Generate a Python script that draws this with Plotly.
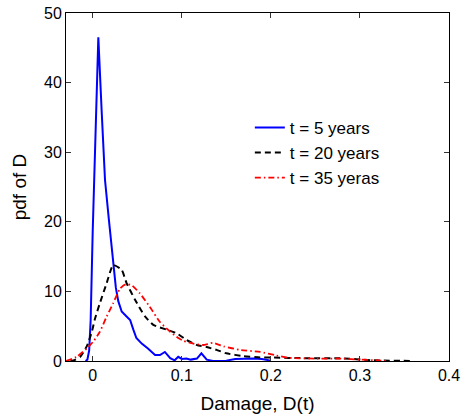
import plotly.graph_objects as go

# t = 5 years
d_5 = [-0.008, -0.006, -0.004, -0.0023, 0.0, 0.0015, 0.004, 0.0063, 0.010, 0.0138, 0.018, 0.023,
       0.026, 0.0287, 0.0325, 0.038, 0.042, 0.0456, 0.049, 0.055, 0.062, 0.070, 0.0755, 0.081,
       0.087, 0.092, 0.096, 0.100, 0.105, 0.110, 0.117, 0.122, 0.128, 0.135, 0.150, 0.160,
       0.170, 0.180, 0.190, 0.200]
p_5 = [0.0, 0.2, 1.5, 5.9, 18.7, 26.0, 36.7, 46.5, 36.0, 26.0, 20.5, 14.0,
       10.5, 8.6, 7.1, 6.4, 5.9, 4.5, 3.3, 2.5, 1.8, 0.86, 0.86, 1.3,
       0.4, 0.1, 0.6, 0.3, 0.35, 0.2, 0.35, 1.1, 0.2, 0.0, 0.05, 0.3,
       0.35, 0.35, 0.3, 0.05]

# t = 20 years
d_20 = [-0.025, -0.02, -0.014, -0.0067, -0.001, 0.0026, 0.008, 0.0157, 0.023, 0.0325, 0.038,
        0.0475, 0.0587, 0.068, 0.083, 0.094, 0.1055, 0.117, 0.128, 0.139, 0.150, 0.169,
        0.188, 0.199, 0.24, 0.277, 0.315, 0.36]
p_20 = [0.0, 0.15, 0.6, 2.1, 4.2, 6.1, 8.3, 11.2, 13.8, 13.1, 11.2,
        8.8, 6.4, 5.2, 4.5, 4.0, 3.0, 2.3, 2.0, 1.6, 1.1, 0.7,
        0.5, 0.5, 0.4, 0.4, 0.1, 0.0]

# t = 35 years
d_35 = [-0.03, -0.018, -0.0067, 0.0007, 0.008, 0.0157, 0.023, 0.0306, 0.037, 0.0437, 0.053,
        0.064, 0.0755, 0.087, 0.096, 0.102, 0.113, 0.124, 0.135, 0.147, 0.165, 0.188,
        0.206, 0.221, 0.25, 0.28, 0.30, 0.32, 0.33]
p_35 = [0.0, 0.6, 1.8, 2.8, 4.2, 6.4, 8.3, 10.4, 11.0, 10.9, 9.7,
        7.8, 5.6, 4.2, 3.3, 2.9, 2.5, 2.3, 2.6, 2.1, 1.6, 1.3,
        0.8, 0.45, 0.35, 0.35, 0.2, 0.1, 0.0]

x_ticks = [0, 0.1, 0.2, 0.3, 0.4]
x_tick_labels = ["0", "0.1", "0.2", "0.3", "0.4"]
y_ticks = [0, 10, 20, 30, 40, 50]
y_tick_labels = ["0", "10", "20", "30", "40", "50"]

fig = go.Figure()
fig.add_trace(go.Scatter(x=d_5, y=p_5, mode="lines", name="t = 5 years",
                         line=dict(color="#0000ff", width=2)))
fig.add_trace(go.Scatter(x=d_20, y=p_20, mode="lines", name="t = 20 years",
                         line=dict(color="#000000", width=2, dash="6px,4px", shape="spline", smoothing=0.5)))
fig.add_trace(go.Scatter(x=d_35, y=p_35, mode="lines", name="t = 35 yeras",
                         line=dict(color="#ff0000", width=1.8, dash="6px,3px,1.5px,3px", shape="spline", smoothing=0.5)))

axis_common = dict(showline=True, linecolor="black", linewidth=1, mirror="ticks",
                   ticks="inside", ticklen=5, tickcolor="#333333", showgrid=False,
                   zeroline=False, tickfont=dict(family="Arial", size=16, color="black"))

fig.update_xaxes(range=[-0.03, 0.4], tickvals=x_ticks, ticktext=x_tick_labels,
                 title=dict(text="Damage, D(t)", font=dict(family="Arial", size=19, color="black"), standoff=13),
                 **axis_common)
fig.update_yaxes(range=[0, 50], tickvals=y_ticks, ticktext=y_tick_labels,
                 title=dict(text="pdf of D", font=dict(family="Arial", size=19, color="black"), standoff=12),
                 **axis_common)

fig.update_layout(
    width=461, height=416,
    margin=dict(l=66, r=12, t=13, b=55, autoexpand=False),
    plot_bgcolor="white", paper_bgcolor="white",
    legend=dict(x=0.48, y=0.7215, xanchor="left", yanchor="top",
                bgcolor="rgba(0,0,0,0)", font=dict(family="Arial", size=17, color="black"),
                tracegroupgap=0),
)

fig.write_html("out.html", config={"displayModeBar": False},
               post_script="document.body.style.margin='0px';")
